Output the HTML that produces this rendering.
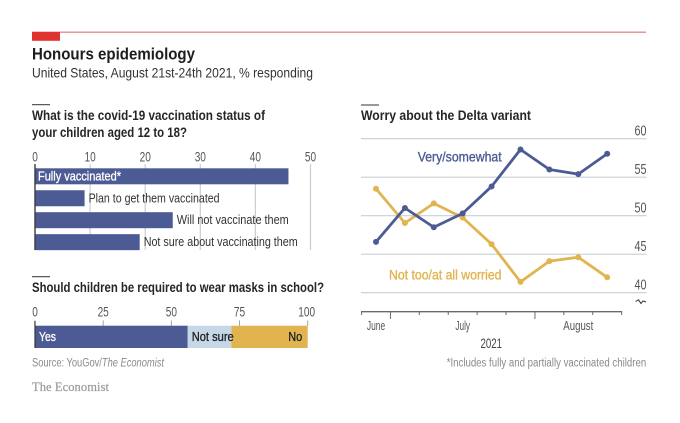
<!DOCTYPE html>
<html lang="en">
<head>
<meta charset="utf-8">
<title>Honours epidemiology</title>
<style>
html,body{margin:0;padding:0;background:#fff}
svg{display:block;font-family:"Liberation Sans",sans-serif;filter:blur(0.3px)}
</style>
</head>
<body>
<svg id="chart" width="680" height="423" viewBox="0 0 680 423" xmlns="http://www.w3.org/2000/svg">
<rect width="680" height="423" fill="#fff"/>
<rect x="32" y="31.5" width="614" height="1.4" fill="#e58f8f"/>
<rect x="32" y="32" width="28" height="8.8" fill="#e0322f"/>
<text x="32" y="59.5" font-size="17" font-weight="700" fill="#1d1d1d" textLength="163" lengthAdjust="spacingAndGlyphs">Honours epidemiology</text>
<text x="32" y="77.5" font-size="14" fill="#333" textLength="281" lengthAdjust="spacingAndGlyphs">United States, August 21st-24th 2021, % responding</text>

<rect x="32" y="104.2" width="18" height="1" fill="#333"/>
<text x="32" y="120" font-size="14" font-weight="700" fill="#262626" textLength="233" lengthAdjust="spacingAndGlyphs">What is the covid-19 vaccination status of</text>
<text x="32" y="137" font-size="14" font-weight="700" fill="#262626" textLength="155" lengthAdjust="spacingAndGlyphs">your children aged 12 to 18?</text>
<g id="vaccination-panel"></g>

<rect x="32" y="276.2" width="18" height="1" fill="#333"/>
<text x="32" y="292" font-size="14" font-weight="700" fill="#262626" textLength="292" lengthAdjust="spacingAndGlyphs">Should children be required to wear masks in school?</text>
<g id="masks-panel"></g>

<rect x="361" y="104.5" width="18" height="1" fill="#333"/>
<text x="361" y="120" font-size="14" font-weight="700" fill="#262626" textLength="170" lengthAdjust="spacingAndGlyphs">Worry about the Delta variant</text>
<g id="delta-panel"></g>
<path d="M635.5 301.5 L638.5 299.8 L641 303.5 L643 301 L646 302" fill="none" stroke="#333" stroke-width="1"/>

<text x="480.5" y="348" font-size="14" fill="#444" textLength="21.5" lengthAdjust="spacingAndGlyphs">2021</text>
<text x="32" y="366.7" font-size="11.5" fill="#8a8a8a" textLength="132" lengthAdjust="spacingAndGlyphs">Source: YouGov/<tspan font-style="italic">The Economist</tspan></text>
<text x="446.7" y="366.7" font-size="11.5" fill="#8a8a8a" textLength="199.5" lengthAdjust="spacingAndGlyphs">*Includes fully and partially vaccinated children</text>
<text x="32" y="391" font-size="12.5" fill="#9a9a9a" font-family="'Liberation Serif',serif" stroke="#9a9a9a" stroke-width="0.2" textLength="77" lengthAdjust="spacing">The Economist</text>
</svg>

<script>
// Vaccination status data
const vaccCategories = ['Fully vaccinated*', 'Plan to get them vaccinated', 'Will not vaccinate them', 'Not sure about vaccinating them'];
const vaccValues = [46, 9, 25, 19];
const vaccTicks = [0, 10, 20, 30, 40, 50];

// Masks data
const maskCategories = ['Yes', 'Not sure', 'No'];
const maskValues = [56, 16, 28];
const maskTicks = [0, 25, 50, 75, 100];

// Delta worry data
const deltaMonths = ['June', 'July', 'August'];
const deltaMonthIndex = [0, 3, 7];
const deltaVery = [46.6, 51.0, 48.5, 50.3, 53.8, 58.6, 56.0, 55.4, 58.05];
const deltaNot = [53.5, 49.05, 51.6, 49.75, 46.3, 41.4, 44.1, 44.6, 42.0];
const deltaTicks = [60, 55, 50, 45, 40];

const NS = 'http://www.w3.org/2000/svg';
function make(parent, tag, attrs, txt) {
  const el = document.createElementNS(NS, tag);
  for (const k in attrs) el.setAttribute(k, attrs[k]);
  if (txt !== undefined) el.textContent = txt;
  parent.appendChild(el);
  return el;
}
const tickWidth = t => String(t).length * 5.6;
const BLUE = '#4d5b95', YELLOW = '#e1b44f', PALE = '#c6d8e7', GRID = '#c5d0d9', TICKTXT = '#555';

// ---------- Vaccination bars ----------
const vaccG = document.getElementById('vaccination-panel');
const xVacc = v => 35 + v * 5.51;
const vaccBarTop = i => 168.3 + i * 21.95;
const vaccLabelWidths = [83, 131, 112, 154];
vaccTicks.forEach(t => {
  const grid = make(vaccG, 'line', {x1: xVacc(t), x2: xVacc(t), y1: 164, y2: 250, stroke: t === 0 ? '#333' : '#c8ced4', 'stroke-width': t === 0 ? 1.2 : 1.2});
  
  
  const lab = make(vaccG, 'text', {x: xVacc(t), y: 161.5, 'font-size': 14, fill: TICKTXT, 'text-anchor': 'middle', textLength: tickWidth(t), lengthAdjust: 'spacingAndGlyphs'}, t);
  
  
});
vaccValues.forEach((v, i) => {
  const bar = make(vaccG, 'rect', {x: xVacc(0), y: vaccBarTop(i), width: xVacc(v) - xVacc(0), height: 16, fill: BLUE});
  
  
  const inside = i === 0;
  const lab = make(vaccG, 'text', {
    x: inside ? xVacc(0) + 3 : xVacc(v) + 4, y: vaccBarTop(i) + 12,
    'font-size': 12.5, fill: inside ? '#fff' : '#333', stroke: inside ? '#fff' : 'none', 'stroke-width': 0.3,
    textLength: vaccLabelWidths[i], lengthAdjust: 'spacingAndGlyphs'
  }, vaccCategories[i]);
  
  
});
const vaccAxis = make(vaccG, 'line', {x1: xVacc(0), x2: xVacc(0), y1: 164, y2: 250, stroke: '#333', 'stroke-width': 1.2});



// ---------- Masks stacked bar ----------
const maskG = document.getElementById('masks-panel');
const xMask = v => 35 + v * 2.727;
const maskFills = [BLUE, PALE, YELLOW];
const maskTextFills = ['#fff', '#222', '#222'];
const maskLabelWidths = [17, 42, 14];
const maskLabelInset = [4, 4, -14];
maskTicks.forEach(t => {
  const tick = make(maskG, 'line', {x1: xMask(t), x2: xMask(t), y1: 320.5, y2: 326, stroke: '#9aa5ae', 'stroke-width': 1});
  
  
  const lab = make(maskG, 'text', {x: t === 100 ? xMask(t) - 1 : xMask(t), y: 316.5, 'font-size': 14, fill: TICKTXT, 'text-anchor': 'middle', textLength: tickWidth(t), lengthAdjust: 'spacingAndGlyphs'}, t);
  
  
});
let cumulative = 0;
maskValues.forEach((v, i) => {
  const start = cumulative, end = cumulative + v;
  const seg = make(maskG, 'rect', {x: xMask(start), y: 325.7, width: xMask(end) - xMask(start), height: 22.3, fill: maskFills[i]});
  
  
  cumulative = end;
});
cumulative = 0;
maskValues.forEach((v, i) => {
  const start = cumulative, end = cumulative + v;
  const lx = i === 2 ? xMask(end) + maskLabelInset[i] - 5.5 : xMask(start) + maskLabelInset[i];
  const lab = make(maskG, 'text', {
    x: lx, y: 341, 'font-size': 12.5, fill: maskTextFills[i], stroke: maskTextFills[i], 'stroke-width': 0.3,
    textLength: maskLabelWidths[i], lengthAdjust: 'spacingAndGlyphs'
  }, maskCategories[i]);
  
  
  cumulative = end;
});
const maskAxis = make(maskG, 'line', {x1: xMask(0), x2: xMask(0), y1: 321, y2: 348, stroke: '#333', 'stroke-width': 1.2});



// ---------- Delta line chart ----------
const deltaG = document.getElementById('delta-panel');
const xDelta = i => 376 + i * 28.9;
const yDelta = v => 292.7 - (v - 40) * 7.7;
const monthWidths = [18.3, 14.7, 30];
deltaTicks.forEach(t => {
  const grid = make(deltaG, 'line', {x1: 361, x2: 646.5, y1: yDelta(t), y2: yDelta(t), stroke: GRID, 'stroke-width': 1.2});
  
  
  const lab = make(deltaG, 'text', {x: 634.5, y: yDelta(t) - 3, 'font-size': 14.5, fill: TICKTXT, textLength: 12, lengthAdjust: 'spacingAndGlyphs'}, t);
  
  
});
const axisLine = make(deltaG, 'line', {x1: xDelta(-0.5), x2: xDelta(8.5), y1: 311.7, y2: 311.7, stroke: '#6a6a6a', 'stroke-width': 1.4});


for (let i = 0; i <= 9; i++) {
  const long = i === 1 || i === 6;
  const tick = make(deltaG, 'line', {x1: xDelta(i - 0.5), x2: xDelta(i - 0.5), y1: 311, y2: long ? 319 : 315, stroke: '#6a6a6a', 'stroke-width': 1});
  
  
}
deltaMonths.forEach((m, k) => {
  const lab = make(deltaG, 'text', {x: xDelta(deltaMonthIndex[k]), y: 330, 'font-size': 12.5, fill: '#555', 'text-anchor': 'middle', textLength: monthWidths[k], lengthAdjust: 'spacingAndGlyphs'}, m);
  
  
});
function drawSeries(values, color, name) {
  const pts = values.map((v, i) => xDelta(i) + ',' + yDelta(v)).join(' ');
  const line = make(deltaG, 'polyline', {points: pts, fill: 'none', stroke: color, 'stroke-width': 2.8, 'stroke-linejoin': 'round'});
  
  
  values.forEach((v, i) => {
    const dot = make(deltaG, 'circle', {cx: xDelta(i), cy: yDelta(v), r: 3, fill: color});
    
    
  });
}
drawSeries(deltaNot, YELLOW, 'not-worried');
drawSeries(deltaVery, BLUE, 'very-somewhat');
const veryLab = make(deltaG, 'text', {x: 417.7, y: 161.7, 'font-size': 14, fill: BLUE, stroke: BLUE, 'stroke-width': 0.35, textLength: 84, lengthAdjust: 'spacingAndGlyphs'}, 'Very/somewhat');


const notLab = make(deltaG, 'text', {x: 389, y: 279.5, 'font-size': 14, fill: YELLOW, stroke: YELLOW, 'stroke-width': 0.35, textLength: 112.5, lengthAdjust: 'spacingAndGlyphs'}, 'Not too/at all worried');


</script>
</body>
</html>
